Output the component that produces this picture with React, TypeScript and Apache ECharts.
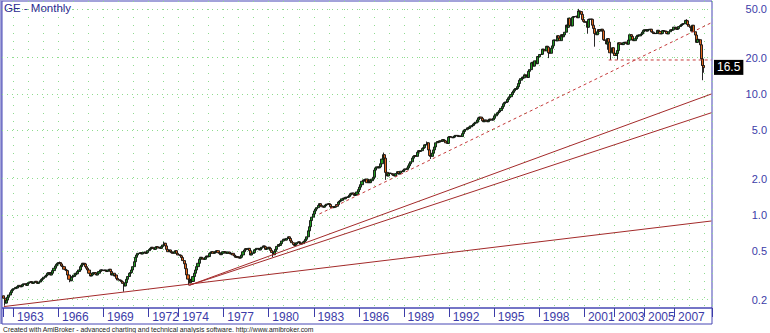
import { useEffect, useRef } from 'react';
import * as echarts from 'echarts';

// ---- data (prices, log scale) ----
const firstBar = '1962-05';
const firstOpen = 0.215;

// monthly closes, May 1962 .. Dec 1969
const close1960s = [
  0.205, 0.187, 0.198, 0.209, 0.218, 0.228, 0.237, 0.243,
  0.246, 0.252, 0.249, 0.256, 0.262, 0.255, 0.258, 0.266, 0.270, 0.268, 0.262, 0.272,
  0.276, 0.281, 0.278, 0.272, 0.279, 0.283, 0.276, 0.272, 0.279, 0.286, 0.294, 0.298,
  0.306, 0.313, 0.319, 0.330, 0.334, 0.319, 0.330, 0.347, 0.363, 0.379, 0.391, 0.399,
  0.404, 0.394, 0.379, 0.374, 0.356, 0.351, 0.347, 0.319, 0.294, 0.286, 0.306, 0.310,
  0.319, 0.330, 0.326, 0.341, 0.351, 0.374, 0.386, 0.399, 0.394, 0.374, 0.363, 0.351,
  0.330, 0.313, 0.319, 0.330, 0.334, 0.324, 0.319, 0.330, 0.341, 0.351, 0.351, 0.347,
  0.351, 0.347, 0.341, 0.351, 0.356, 0.341, 0.319, 0.330, 0.313, 0.319, 0.299, 0.290,
];
const close1970s = [
  0.290, 0.286, 0.281, 0.272, 0.259, 0.276, 0.294, 0.310, 0.330, 0.334, 0.351, 0.374,
  0.411, 0.447, 0.467, 0.482, 0.482, 0.488, 0.476, 0.488, 0.494, 0.482, 0.488, 0.507,
  0.520, 0.530, 0.541, 0.530, 0.520, 0.541, 0.547, 0.533, 0.541, 0.530, 0.547, 0.565,
  0.584, 0.555, 0.520, 0.497, 0.514, 0.497, 0.488, 0.482, 0.497, 0.507, 0.482, 0.467,
  0.467, 0.460, 0.445, 0.420, 0.395, 0.360, 0.320, 0.295, 0.275, 0.292, 0.282, 0.310,
  0.330, 0.351, 0.374, 0.399, 0.431, 0.447, 0.440, 0.431, 0.431, 0.447, 0.458, 0.453,
  0.482, 0.488, 0.497, 0.482, 0.491, 0.497, 0.507, 0.488, 0.482, 0.470, 0.482, 0.497,
  0.497, 0.488, 0.482, 0.494, 0.482, 0.476, 0.482, 0.467, 0.458, 0.447, 0.453, 0.444,
  0.440, 0.447, 0.467, 0.497, 0.514, 0.527, 0.520, 0.530, 0.507, 0.467, 0.482, 0.488,
  0.514, 0.520, 0.530, 0.527, 0.514, 0.530, 0.541, 0.555, 0.547, 0.520, 0.527, 0.541,
];
const close1980s = [
  0.530, 0.510, 0.490, 0.470, 0.500, 0.520, 0.550, 0.570, 0.560, 0.580, 0.610, 0.630,
  0.630, 0.620, 0.640, 0.660, 0.640, 0.610, 0.590, 0.570, 0.560, 0.575, 0.590, 0.600,
  0.590, 0.575, 0.580, 0.600, 0.610, 0.630, 0.660, 0.740, 0.800, 0.900, 0.960, 1.020,
  1.080, 1.120, 1.150, 1.200, 1.240, 1.200, 1.170, 1.160, 1.190, 1.210, 1.230, 1.240,
  1.220, 1.170, 1.150, 1.170, 1.160, 1.180, 1.220, 1.280, 1.300, 1.320, 1.360, 1.380,
  1.360, 1.400, 1.400, 1.420, 1.460, 1.500, 1.520, 1.480, 1.450, 1.480, 1.550, 1.620,
  1.700, 1.780, 1.900, 1.950, 1.920, 1.980, 1.850, 1.950, 1.850, 1.920, 1.980, 2.050,
  2.350, 2.450, 2.500, 2.450, 2.500, 2.650, 2.900, 3.150, 2.950, 2.250, 2.100, 2.200,
  2.220, 2.200, 2.150, 2.120, 2.100, 2.200, 2.280, 2.180, 2.220, 2.300, 2.280, 2.350,
  2.400, 2.380, 2.450, 2.550, 2.650, 2.750, 2.950, 3.050, 3.100, 3.050, 3.300, 3.400,
];
const close1990s = [
  3.35, 3.40, 3.55, 3.60, 3.80, 3.80, 3.95, 3.45, 3.10, 3.05, 3.25, 3.45,
  3.65, 3.95, 4.05, 4.00, 4.10, 4.05, 4.20, 4.15, 4.10, 3.95, 3.90, 4.40,
  4.45, 4.40, 4.35, 4.40, 4.50, 4.55, 4.50, 4.45, 4.50, 4.45, 4.70, 4.90,
  5.05, 5.10, 5.25, 5.20, 5.35, 5.45, 5.50, 5.65, 5.75, 5.85, 6.10, 6.35,
  6.45, 6.30, 6.00, 5.90, 6.10, 6.00, 5.90, 6.05, 6.20, 6.10, 6.10, 6.30,
  6.60, 6.80, 7.00, 7.10, 7.30, 7.60, 7.90, 8.30, 8.50, 8.60, 9.00, 9.30,
  9.50, 9.90, 10.3, 10.6, 10.9, 11.1, 11.5, 12.2, 13.0, 13.4, 13.8, 13.6,
  14.4, 14.2, 13.7, 15.4, 15.9, 18.1, 18.3, 17.0, 18.8, 17.8, 20.4, 20.3,
  21.2, 21.3, 23.5, 23.2, 22.7, 24.8, 24.4, 21.9, 21.7, 23.9, 25.0, 27.9,
  27.9, 27.5, 30.3, 28.9, 27.6, 30.9, 29.7, 30.8, 32.4, 37.1, 35.6, 42.3,
];
const close2000s = [
  36.9, 36.5, 43.1, 43.6, 43.6, 44.0, 42.7, 48.6, 48.0, 45.5, 41.2, 39.8,
  39.1, 39.5, 35.6, 41.3, 41.7, 41.4, 37.0, 34.8, 31.6, 30.9, 32.7, 34.1,
  33.1, 34.3, 33.3, 28.1, 27.7, 25.9, 28.7, 26.8, 21.9, 22.5, 24.1, 21.7,
  20.8, 21.6, 22.9, 26.5, 25.8, 25.8, 25.6, 26.6, 26.8, 26.1, 25.8, 27.9,
  30.9, 29.9, 28.1, 27.6, 28.6, 29.8, 30.6, 30.2, 30.9, 31.4, 32.5, 33.6,
  34.0, 33.1, 33.9, 34.0, 34.3, 32.6, 32.4, 31.6, 31.6, 31.9, 33.6, 32.9,
  31.4, 31.6, 33.4, 33.2, 32.9, 31.6, 31.4, 32.7, 33.9, 33.7, 33.9, 35.7,
  35.3, 34.2, 34.7, 36.1, 36.8, 37.5, 38.0, 38.1, 40.6, 40.3, 37.5, 36.3,
  35.4, 33.1, 37.0, 32.7, 30.7, 26.7, 28.3, 28.1, 25.5, 19.5, 17.2, 16.5,
];

// wick extremes
const wickLows: [string, number][] = [
  ['1962-06', 0.178], ['1966-10', 0.278], ['1970-05', 0.232], ['1974-09', 0.262],
  ['1980-04', 0.448], ['1981-09', 0.55], ['1982-02', 0.572], ['1987-10', 1.95],
  ['1990-10', 2.9], ['1998-08', 19.8], ['2001-03', 31.5], ['2001-09', 24.6],
  ['2002-07', 23.2], ['2002-10', 19.1], ['2003-03', 19.2], ['2008-10', 17.2],
  ['2008-11', 13.0], ['2008-12', 15.0],
];
const wickHighs: [string, number][] = [
  ['1966-02', 0.412], ['1973-01', 0.6], ['1987-08', 3.28], ['1990-07', 4.05],
  ['2000-08', 50.5], ['2007-10', 41.5],
];

// trend lines [month, price]
const supportLine: [string, number][] = [['1962-05', 0.175], ['2009-06', 0.892]];
const upperLine: [string, number][] = [['1974-09', 0.262], ['2009-06', 10.0]];
const lowerLine: [string, number][] = [['1974-09', 0.262], ['2009-06', 7.0]];
const dashedTrend: [string, number][] = [['1983-05', 1.02], ['2009-06', 38.8]];
const supportLevel: [string, number][] = [['2002-08', 19.1], ['2009-06', 19.1]];

const labeledYears = [1963, 1966, 1969, 1972, 1974, 1977, 1980, 1983, 1986, 1989, 1992, 1995, 1998, 2001, 2003, 2005, 2007];
const yTicks = [0.2, 0.5, 1, 2, 5, 10, 20, 50];
const yRange = [0.1703, 58.7];

const FONT = 'Liberation Sans, Arial, sans-serif';
const AXIS_BLUE = '#3c3ca8';

export default function App() {
  const ref = useRef<HTMLDivElement>(null);
  useEffect(() => {
    if (!ref.current) return;
    const chart = echarts.init(ref.current, undefined, { renderer: 'svg' });

    const closes = [...close1960s, ...close1970s, ...close1980s, ...close1990s, ...close2000s];
    const months: string[] = [];
    let y = 1962, m = 4;
    while (y < 2009 || (y === 2009 && m <= 6)) {
      months.push(`${y}-${String(m).padStart(2, '0')}`);
      m++;
      if (m > 12) { m = 1; y++; }
    }
    const startIdx = months.indexOf(firstBar);
    const lowMap = new Map(wickLows);
    const highMap = new Map(wickHighs);
    const L = (v: number) => Math.log10(v);

    const candles = months.map((name, i) => {
      const k = i - startIdx;
      if (k < 0 || k >= closes.length) return '-';
      const c = closes[k];
      const o = k === 0 ? firstOpen : closes[k - 1];
      const lo = lowMap.has(name) ? lowMap.get(name)! : Math.min(o, c);
      const hi = highMap.has(name) ? highMap.get(name)! : Math.max(o, c);
      return [L(o), L(c), L(lo), L(hi)];
    });
    const lastClose = closes[closes.length - 1];

    const tickSet = new Set<string>([firstBar, ...labeledYears.map((yy) => `${yy}-01`)]);
    const labelSet = new Set<string>(labeledYears.map((yy) => `${yy}-01`));

    const mkLine = (pts: [string, number][], dashed: boolean) => ({
      type: 'line',
      data: pts.map(([d, v]) => [d, L(v)]),
      symbol: 'none',
      silent: true,
      z: 4,
      lineStyle: { color: dashed ? '#c43a3a' : '#a32a2a', width: 1, type: dashed ? [3, 3] : 'solid' },
    });

    chart.setOption({
      animation: false,
      backgroundColor: '#ffffff',
      title: {
        text: 'GE - Monthly',
        left: 4,
        top: 2,
        padding: 0,
        textStyle: { fontSize: 11.5, fontWeight: 'normal', color: '#2b2b90', fontFamily: FONT },
      },
      grid: {
        left: 2, right: 58, top: 1, bottom: 25,
        show: true, borderColor: '#4646b4', borderWidth: 1,
        containLabel: false, outerBoundsMode: 'none',
      },
      xAxis: {
        type: 'category',
        data: months,
        boundaryGap: true,
        axisLine: { show: false, onZero: false },
        axisTick: {
          show: true,
          interval: (_i: number, v: string) => tickSet.has(v),
          length: 9,
          lineStyle: { color: AXIS_BLUE, width: 1 },
        },
        axisLabel: {
          interval: (_i: number, v: string) => labelSet.has(v),
          formatter: (v: string) => v.slice(0, 4),
          align: 'left',
          padding: [0, 0, 0, 3],
          margin: 3,
          fontSize: 12,
          color: AXIS_BLUE,
          fontFamily: FONT,
        },
        splitLine: {
          show: true,
          interval: (_i: number, v: string) => v.endsWith('-01'),
          lineStyle: { color: '#8fdc8f', width: 1, type: [1, 7] },
        },
      },
      yAxis: {
        type: 'value',
        position: 'right',
        min: L(yRange[0]),
        max: L(yRange[1]),
        axisLine: { show: false },
        axisTick: { show: false, customValues: yTicks.map(L) },
        axisLabel: {
          customValues: yTicks.map(L),
          formatter: (v: number) => Math.pow(10, v).toFixed(1),
          align: 'right',
          margin: 55,
          fontSize: 11,
          color: AXIS_BLUE,
          fontFamily: FONT,
        },
        splitLine: { show: true, lineStyle: { color: '#8fdc8f', width: 1, type: [1, 4] } },
      },
      series: [
        {
          type: 'candlestick',
          data: candles,
          barWidth: 2.6,
          z: 3,
          itemStyle: {
            color: '#1f9b1f',
            color0: '#e2661a',
            borderColor: '#111111',
            borderColor0: '#111111',
            borderWidth: 0.9,
          },
        },
        mkLine(supportLine, false),
        mkLine(upperLine, false),
        mkLine(lowerLine, false),
        mkLine(dashedTrend, true),
        {
          ...mkLine(supportLevel, true),
          markLine: {
            silent: true,
            symbol: 'none',
            lineStyle: { color: 'rgba(0,0,0,0)', width: 0 },
            data: [{ yAxis: L(lastClose) }],
            label: {
              show: true,
              position: 'end',
              distance: 2,
              formatter: lastClose.toFixed(1),
              backgroundColor: '#000000',
              color: '#ffffff',
              padding: [2, 3, 1, 3],
              fontSize: 12,
              fontFamily: FONT,
            },
          },
        },
      ],
      graphic: [
        {
          type: 'rect',
          shape: { x: 2, y: 308, width: 710, height: 16 },
          style: { fill: 'none', stroke: '#4646b4', lineWidth: 1 },
          silent: true,
        },
        {
          type: 'line',
          shape: { x1: 1, y1: 0, x2: 1, y2: 324 },
          style: { stroke: '#4646b4', lineWidth: 1 },
          silent: true,
        },
        {
          type: 'text',
          x: 3,
          y: 329,
          silent: true,
          style: {
            text: 'Created with AmiBroker - advanced charting and technical analysis software. http://www.amibroker.com',
            fontSize: 6.8,
            fontFamily: FONT,
            fill: '#222222',
            verticalAlign: 'middle',
          },
        },
      ],
    });
    return () => chart.dispose();
  }, []);
  return (
    <div
      ref={ref}
      style={{ position: 'fixed', left: 0, top: 0, width: 770, height: 333, background: '#fff' }}
    />
  );
}
